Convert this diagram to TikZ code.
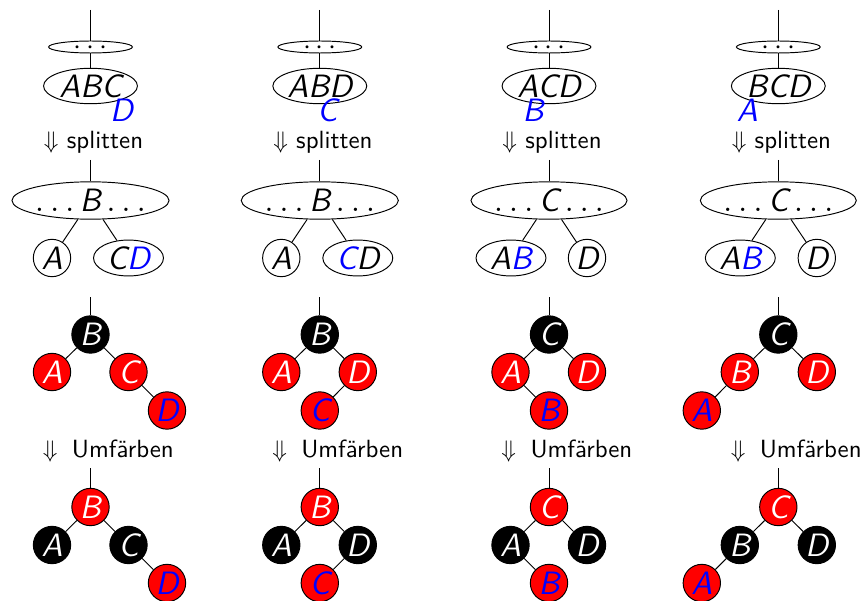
\documentclass[tikz,border=0pt]{standalone}
\usetikzlibrary{shapes.geometric}
\tikzset{
  lett/.style={font=\fontsize{13.5pt}{16pt}\selectfont\sffamily\itshape},
  dotell/.style={ellipse, draw, inner sep=0pt, minimum width=35pt, minimum height=5pt, text height=0pt, text depth=0pt, font=\large},
  topell/.style={ellipse, draw, inner sep=0pt, minimum width=39.2pt, minimum height=14.8pt, lett},
  midell/.style={ellipse, draw, inner sep=0pt, minimum width=61.8pt, minimum height=15.6pt, lett},
  chell/.style={ellipse, draw, inner sep=0pt, minimum width=29.2pt, minimum height=15pt, lett},
  chcirc/.style={circle, draw, inner sep=0pt, minimum size=15.6pt, lett},
  bluelet/.style={lett, text=blue, inner sep=0pt},
  rb/.style={circle, draw=black, inner sep=0pt, minimum size=15.6pt, lett, text=white},
  rnode/.style={rb, fill=red},
  bnode/.style={rb, fill=black},
  lbl/.style={anchor=base west, inner sep=0pt, font=\fontsize{10.4pt}{12.5pt}\selectfont\sffamily},
}
\newcommand{\mydots}{\raisebox{-3pt}{$\cdots$}}
\newcommand{\ld}{\mbox{$\ldots$}}
\newcommand{\splitlbl}{$\Downarrow$ splitten}
\newcommand{\umflbl}{$\Downarrow$\hspace{6pt}Umfärben}
\begin{document}
\begin{tikzpicture}[x=0.4175pt, y=-0.4175pt]
\useasboundingbox (0,0) rectangle (865,600);

% ---------- Column 1 ----------
\begin{scope}[shift={(90.5,0)}]
  \coordinate (aT) at (0,10);
  \node[dotell] (aS) at (0,47) {\mydots};
  \node[topell] (aK) at (0,86) {ABC};
  \node[bluelet] (aX) at (31,110) {D};
  \draw (aT) -- (aS);
  \draw (aS) -- (aK);
  \node[lbl] (aL1) at (-47,149) {\splitlbl};
  \coordinate (aT2) at (0,160);
  \node[midell] (aM) at (0,200.5) {\ld\,B\,\ld};
  \node[chcirc] (aA) at (-38.5,258) {A};
  \node[chell] (aCD) at (38,258) {C\textcolor{blue}{D}};
  \draw (aT2) -- (aM);
  \draw (aM) -- (aA);
  \draw (aM) -- (aCD);
  \coordinate (aT3) at (0,297);
  \node[bnode] (aR3) at (0,334.5) {B};
  \node[rnode] (aL3) at (-38.5,372) {A};
  \node[rnode] (aM3) at (38,372) {C};
  \node[rnode, text=blue] (aG3) at (76.5,410.5) {D};
  \draw (aT3) -- (aR3);
  \draw (aR3) -- (aL3);
  \draw (aR3) -- (aM3);
  \draw (aM3) -- (aG3);
  \node[lbl] (aL2) at (-48,457) {\umflbl};
  \coordinate (aT4) at (0,468);
  \node[rnode] (aR4) at (0,507) {B};
  \node[bnode] (aL4) at (-38.5,545) {A};
  \node[bnode] (aM4) at (38,545) {C};
  \node[rnode, text=blue] (aG4) at (76.5,583) {D};
  \draw (aT4) -- (aR4);
  \draw (aR4) -- (aL4);
  \draw (aR4) -- (aM4);
  \draw (aM4) -- (aG4);
\end{scope}

% ---------- Column 2 ----------
\begin{scope}[shift={(319.8,0)}]
  \coordinate (bT) at (0,10);
  \node[dotell] (bS) at (0,47) {\mydots};
  \node[topell] (bK) at (0,86) {ABD};
  \node[bluelet] (bX) at (7.5,110) {C};
  \draw (bT) -- (bS);
  \draw (bS) -- (bK);
  \node[lbl] (bL1) at (-47,149) {\splitlbl};
  \coordinate (bT2) at (0,160);
  \node[midell] (bM) at (0,200.5) {\ld\,B\,\ld};
  \node[chcirc] (bA) at (-38.5,258) {A};
  \node[chell] (bCD) at (38,258) {\textcolor{blue}{C}D};
  \draw (bT2) -- (bM);
  \draw (bM) -- (bA);
  \draw (bM) -- (bCD);
  \coordinate (bT3) at (0,297);
  \node[bnode] (bR3) at (0,334.5) {B};
  \node[rnode] (bL3) at (-38.5,372) {A};
  \node[rnode] (bM3) at (38,372) {D};
  \node[rnode, text=blue] (bG3) at (0,410.5) {C};
  \draw (bT3) -- (bR3);
  \draw (bR3) -- (bL3);
  \draw (bR3) -- (bM3);
  \draw (bM3) -- (bG3);
  \node[lbl] (bL2) at (-48,457) {\umflbl};
  \coordinate (bT4) at (0,468);
  \node[rnode] (bR4) at (0,507) {B};
  \node[bnode] (bL4) at (-38.5,545) {A};
  \node[bnode] (bM4) at (38,545) {D};
  \node[rnode, text=blue] (bG4) at (0,583) {C};
  \draw (bT4) -- (bR4);
  \draw (bR4) -- (bL4);
  \draw (bR4) -- (bM4);
  \draw (bM4) -- (bG4);
\end{scope}

% ---------- Column 3 ----------
\begin{scope}[shift={(549,0)}]
  \coordinate (cT) at (0,10);
  \node[dotell] (cS) at (0,47) {\mydots};
  \node[topell] (cK) at (0,86) {ACD};
  \node[bluelet] (cX) at (-16,110) {B};
  \draw (cT) -- (cS);
  \draw (cS) -- (cK);
  \node[lbl] (cL1) at (-47,149) {\splitlbl};
  \coordinate (cT2) at (0,160);
  \node[midell] (cM) at (0,200.5) {\ld\,C\,\ld};
  \node[chell] (cAB) at (-38,258) {A\textcolor{blue}{B}};
  \node[chcirc] (cD) at (38,258) {D};
  \draw (cT2) -- (cM);
  \draw (cM) -- (cAB);
  \draw (cM) -- (cD);
  \coordinate (cT3) at (0,297);
  \node[bnode] (cR3) at (0,334.5) {C};
  \node[rnode] (cL3) at (-38.5,372) {A};
  \node[rnode] (cM3) at (38,372) {D};
  \node[rnode, text=blue] (cG3) at (0,410.5) {B};
  \draw (cT3) -- (cR3);
  \draw (cR3) -- (cL3);
  \draw (cR3) -- (cM3);
  \draw (cL3) -- (cG3);
  \node[lbl] (cL2) at (-48,457) {\umflbl};
  \coordinate (cT4) at (0,468);
  \node[rnode] (cR4) at (0,507) {C};
  \node[bnode] (cL4) at (-38.5,545) {A};
  \node[bnode] (cM4) at (38,545) {D};
  \node[rnode, text=blue] (cG4) at (0,583) {B};
  \draw (cT4) -- (cR4);
  \draw (cR4) -- (cL4);
  \draw (cR4) -- (cM4);
  \draw (cL4) -- (cG4);
\end{scope}

% ---------- Column 4 ----------
\begin{scope}[shift={(778.3,0)}]
  \coordinate (dT) at (0,10);
  \node[dotell] (dS) at (0,47) {\mydots};
  \node[topell] (dK) at (0,86) {BCD};
  \node[bluelet] (dX) at (-31,110) {A};
  \draw (dT) -- (dS);
  \draw (dS) -- (dK);
  \node[lbl] (dL1) at (-47,149) {\splitlbl};
  \coordinate (dT2) at (0,160);
  \node[midell] (dM) at (0,200.5) {\ld\,C\,\ld};
  \node[chell] (dAB) at (-38,258) {A\textcolor{blue}{B}};
  \node[chcirc] (dD) at (38.5,258) {D};
  \draw (dT2) -- (dM);
  \draw (dM) -- (dAB);
  \draw (dM) -- (dD);
  \coordinate (dT3) at (0,297);
  \node[bnode] (dR3) at (0,334.5) {C};
  \node[rnode] (dL3) at (-38.5,372) {B};
  \node[rnode] (dM3) at (38.5,372) {D};
  \node[rnode, text=blue] (dG3) at (-76.5,410.5) {A};
  \draw (dT3) -- (dR3);
  \draw (dR3) -- (dL3);
  \draw (dR3) -- (dM3);
  \draw (dL3) -- (dG3);
  \node[lbl] (dL2) at (-48,457) {\umflbl};
  \coordinate (dT4) at (0,468);
  \node[rnode] (dR4) at (0,507) {C};
  \node[bnode] (dL4) at (-38.5,545) {B};
  \node[bnode] (dM4) at (38.5,545) {D};
  \node[rnode, text=blue] (dG4) at (-76.5,583) {A};
  \draw (dT4) -- (dR4);
  \draw (dR4) -- (dL4);
  \draw (dR4) -- (dM4);
  \draw (dL4) -- (dG4);
\end{scope}
\end{tikzpicture}
\end{document}
